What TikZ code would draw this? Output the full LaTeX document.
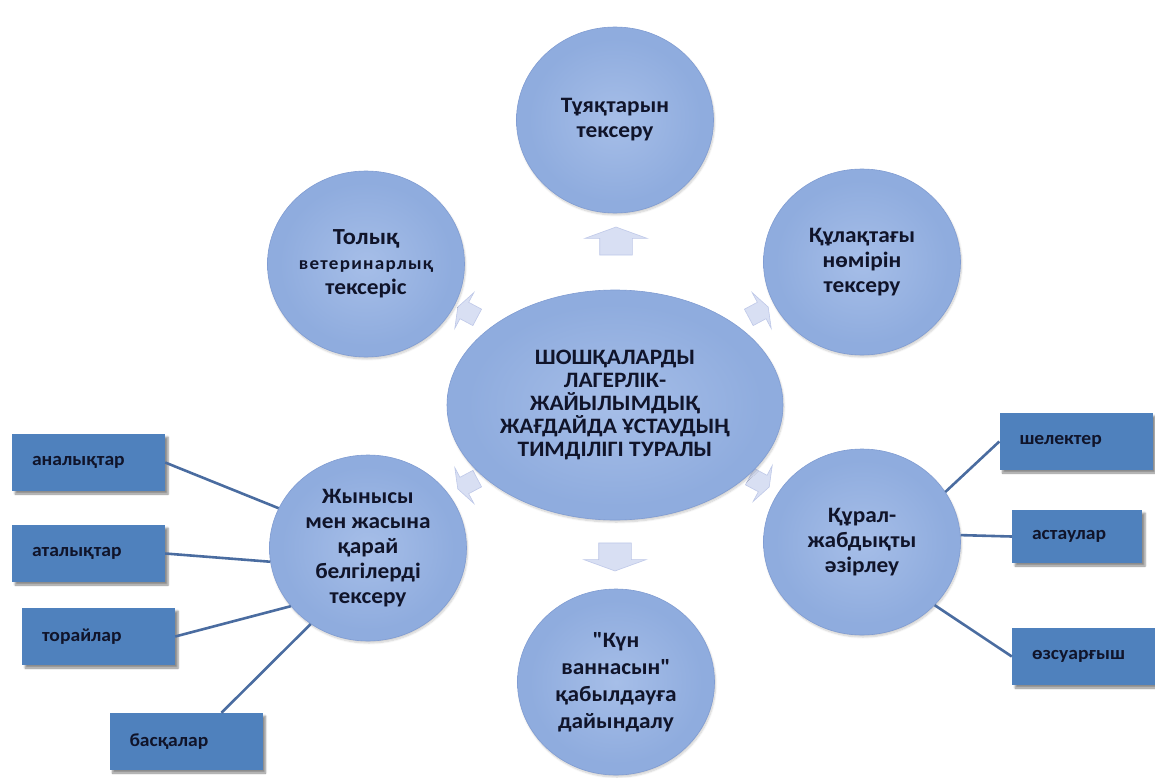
\documentclass[tikz,border=0pt]{standalone}
\usepackage{fontspec}
\setmainfont{Carlito}[FakeStretch=1.06, Ligatures=TeXOff]
\usetikzlibrary{shapes.geometric,shapes.arrows,shadows.blur,calc}
\definecolor{bubin}{RGB}{166,190,232}
\definecolor{bubmid}{RGB}{143,172,222}
\definecolor{bubout}{RGB}{118,148,204}
\definecolor{bubrim}{RGB}{128,156,210}
\definecolor{leafc}{RGB}{79,129,189}
\definecolor{txt}{RGB}{16,20,42}
\definecolor{linkc}{RGB}{74,108,160}
\definecolor{arrf}{RGB}{212,219,242}
\definecolor{arrd}{RGB}{190,200,232}
\pgfdeclareradialshading{bubble}{\pgfpoint{0bp}{0bp}}{color(0bp)=(bubin); color(22bp)=(bubmid); color(44bp)=(bubmid); color(50bp)=(bubout)}
\tikzset{
  bub/.style={ellipse, shading=bubble, draw=bubrim, line width=0.6pt, inner sep=0pt,
    minimum width=197pt, minimum height=186pt, align=center, text=txt,
    font=\bfseries\fontsize{22}{25}\selectfont,
    blur shadow={shadow xshift=1pt, shadow yshift=-2pt, shadow opacity=20, shadow blur steps=8}},
  leaf/.style={rectangle, fill=leafc, inner xsep=20pt, inner ysep=0pt, text width=#1,
    minimum height=57pt, align=left, text=txt, font=\bfseries\fontsize{18.5}{21}\selectfont,
    blur shadow={shadow xshift=3pt, shadow yshift=-3pt, shadow opacity=45, shadow blur steps=5}},
  leaf/.default=113pt,
  link/.style={draw=linkc, line width=2.6pt},
  blk/.style={single arrow, fill=arrf, draw=arrd, line width=0.6pt, inner xsep=0pt, inner ysep=16pt,
    minimum height=28pt, single arrow head extend=15pt,
    single arrow tip angle=140, fill opacity=0.9},
  sblk/.style={blk, inner ysep=9pt, single arrow head extend=11pt, minimum height=22pt},
}
\begin{document}
\begin{tikzpicture}[x=1pt,y=-1pt]
\useasboundingbox (0,0) rectangle (1155,778);
% decorative block arrows
\node[blk, rotate=90]  (aU)  at (616,244) {};
\node[blk, rotate=270] (aD)  at (615,554) {};
\node[sblk, rotate=152] (aUL) at (469,313) {};
\node[sblk, rotate=28]  (aUR) at (757,313) {};
\node[sblk, rotate=208] (aLL) at (469,483) {};
\node[sblk, rotate=332] (aLR) at (758,481) {};
% circles
\node[bub, minimum width=336pt, minimum height=230pt, font=\bfseries\fontsize{22}{23}\selectfont] (C) at (615,405)
  {ШОШҚАЛАРДЫ\\ЛАГЕРЛІК-\\ЖАЙЫЛЫМДЫҚ\\ЖАҒДАЙДА ҰСТАУДЫҢ\\ТИМДІЛІГІ ТУРАЛЫ};
\node[bub] (T)  at (615,120) {Тұяқтарын\\тексеру};
\node[bub] (TL) at (366,264) {{\fontsize{23}{25}\selectfont Толық}\\{\fontsize{18}{24}\selectfont\addfontfeature{LetterSpace=7}ветеринарлық}\\тексеріс};
\node[bub] (TR) at (862,262) {Құлақтағы\\нөмірін\\тексеру};
\node[bub] (BL) at (368,548) {Жынысы\\мен жасына\\қарай\\белгілерді\\тексеру};
\node[bub] (BR) at (862,542) {Құрал-\\жабдықты\\әзірлеу};
\node[bub, font=\bfseries\fontsize{22}{27}\selectfont] (B)  at (616,682) {"Күн\\ваннасын"\\қабылдауға\\дайындалу};
% leaf boxes
\node[leaf] (l1) at (88.5,462.5) {аналықтар};
\node[leaf] (l2) at (88.5,553.5) {аталықтар};
\node[leaf] (l3) at (98.5,636.5) {торайлар};
\node[leaf] (l4) at (186,741.5) {басқалар};
\node[leaf] (r1) at (1076,441.5) {шелектер};
\node[leaf=90pt, minimum height=53pt] (r2) at (1077,536.5) {астаулар};
\node[leaf=103pt] (r3) at (1083.5,656.5) {өзсуарғыш};
% connectors
\draw[link] (l1.east) -- (BL.156);
\draw[link] (l2.east) -- (BL.188);
\draw[link] (l3.east) -- (BL.217);
\draw[link] (l4.39) -- (BL.233);
\draw[link] (r1.west) -- (BR.31);
\draw[link] (r2.west) -- (BR.4);
\draw[link] (r3.west) -- (BR.-41);
\end{tikzpicture}
\end{document}
